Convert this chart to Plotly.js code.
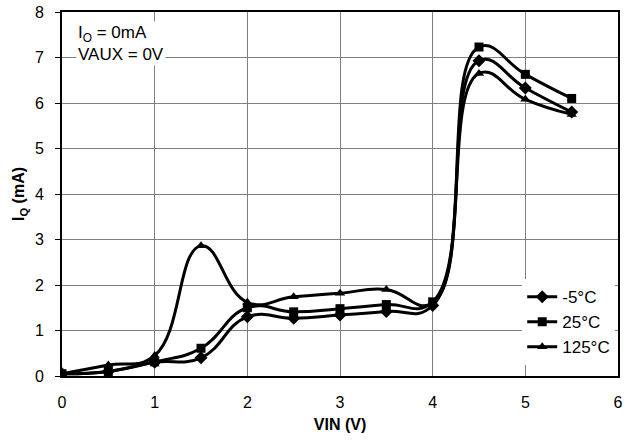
<!DOCTYPE html>
<html><head><meta charset="utf-8">
<script src="https://cdn.plot.ly/plotly-3.0.1.min.js"></script>
<style>html,body{margin:0;padding:0;background:#fff}</style>
</head><body><div id="chart" style="width:624px;height:448px"></div>
<script>
const vin = [0, 0.5, 1, 1.5, 2, 2.5, 3, 3.5, 4, 4.5, 5, 5.5];
const iqM5 = [0.05, 0.1, 0.3, 0.4, 1.3, 1.27, 1.34, 1.42, 1.55, 6.93, 6.33, 5.8];
const iq25 = [0.05, 0.1, 0.31, 0.61, 1.5, 1.41, 1.48, 1.57, 1.63, 7.23, 6.63, 6.1];
const iq125 = [0.05, 0.24, 0.45, 2.86, 1.62, 1.74, 1.82, 1.9, 1.6, 6.65, 6.08, 5.75];
const names = ['-5°C', '25°C', '125°C'];
const symbols = ['diamond', 'square', 'triangle-up'];
const series = [iqM5, iq25, iq125];

const traces = series.map((y, i) => ({
  x: vin, y: y, name: names[i], type: 'scatter', mode: 'lines+markers',
  line: {color: '#000', width: 3, shape: 'spline', smoothing: 1.3},
  marker: {symbol: symbols[i], color: '#000', size: i === 0 ? 10 : 9}
}));

const fontFam = 'Liberation Sans, Arial, sans-serif';
const layout = {
  width: 624, height: 448,
  margin: {l: 62, r: 6, t: 12, b: 72},
  paper_bgcolor: '#fff', plot_bgcolor: '#fff',
  font: {family: fontFam, size: 16, color: '#000'},
  showlegend: true,
  legend: {x: 0.995, y: 0.03, xanchor: 'right', yanchor: 'bottom',
    bgcolor: '#fff', borderwidth: 0, font: {size: 17, family: fontFam},
    tracegroupgap: 0, itemwidth: 30},
  xaxis: {range: [0, 6], dtick: 1, showgrid: true, gridcolor: '#808080', gridwidth: 1,
    showline: true, linecolor: '#000', linewidth: 2, mirror: true, zeroline: false,
    ticks: '', tickfont: {size: 16}, ticklabelstandoff: 11,
    title: {text: '<b>VIN (V)</b>', font: {size: 16, family: fontFam}, standoff: 9}},
  yaxis: {range: [0, 8], dtick: 1, showgrid: true, gridcolor: '#808080', gridwidth: 1,
    showline: true, linecolor: '#000', linewidth: 2, mirror: true, zeroline: false,
    ticks: 'outside', ticklen: 5, tickcolor: '#000', tickfont: {size: 16}, ticklabelstandoff: 8,
    title: {text: '<b>I<sub>Q</sub> (mA)</b>', font: {size: 16, family: fontFam}, standoff: 6}},
  annotations: [{
    xref: 'paper', yref: 'paper', x: 0.025, y: 0.975, xanchor: 'left', yanchor: 'top',
    text: 'I<sub>O</sub> = 0mA<br>VAUX = 0V', showarrow: false, align: 'left',
    bgcolor: '#fff', font: {size: 17, family: fontFam}
  }]
};
Plotly.newPlot('chart', traces, layout, {displayModeBar: false});
</script></body></html>
